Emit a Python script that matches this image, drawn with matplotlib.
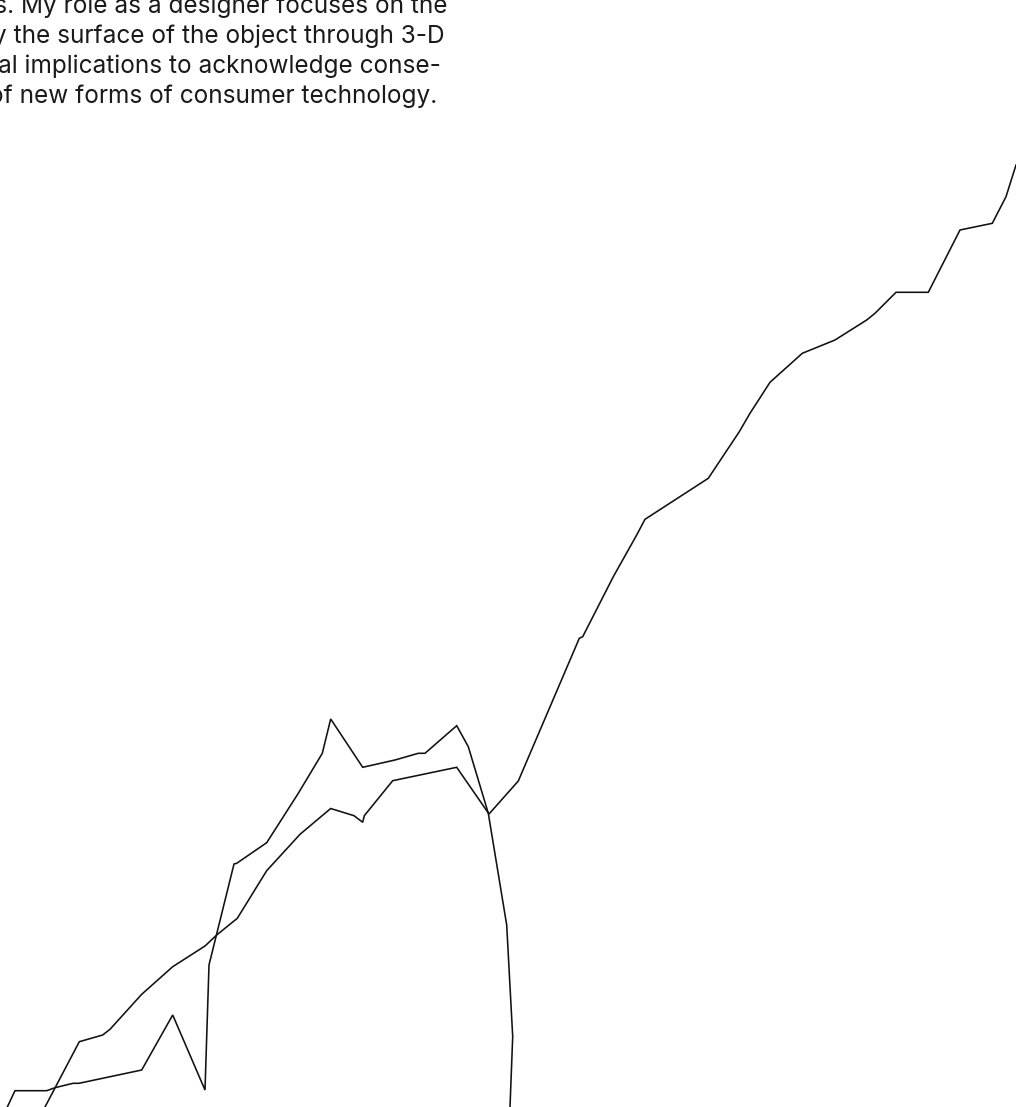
import matplotlib
matplotlib.use('Agg')
import matplotlib.pyplot as plt

# two traced paths, in picture pixels (x right, y down)
path_a_x = [7.3, 15, 46.7, 55, 73, 79, 141.7, 172.7, 205, 209, 234, 236.7, 266.7, 298.3,
            322.3, 330.7, 362.7, 395, 418.3, 425, 456.7, 468.3, 488.3, 506.7, 512.7, 510]
path_a_y = [1107, 1090.7, 1090.7, 1087.7, 1083.3, 1083.3, 1070, 1015, 1090, 965, 864, 863.3,
            842.7, 793.3, 753.3, 719, 767.3, 760, 753.3, 753.3, 725.7, 746.7, 813.3, 925,
            1036.7, 1107]

path_b_x = [45, 79.3, 102.7, 110, 141.7, 172.7, 205, 216.7, 237.3, 266.7, 300, 330.7, 354,
            362.7, 364.3, 392.7, 456.7, 489, 518.3, 579.3, 582.7, 613.3, 636.7, 645, 708.3,
            739.3, 750, 770, 802.3, 835, 866.7, 875, 896, 928.3, 960, 992.3, 1006, 1016]
path_b_y = [1107, 1041.7, 1035, 1029.3, 994.3, 966.7, 946, 935, 918.3, 870.7, 834.3, 808.5,
            815.7, 822.3, 815.7, 780.7, 767.3, 814, 781, 638.3, 636.7, 576.7, 535, 519.3,
            478.3, 431.7, 413.3, 382.3, 353.3, 340, 320, 313.3, 292.3, 292.3, 230, 223.3,
            196.7, 165]

text_lines = [
    'es. My role as a designer focuses on the',
    'y the surface of the object through 3-D',
    'al implications to acknowledge conse-',
    'of new forms of consumer technology.',
]

W, H = 1016, 1107
fig = plt.figure(figsize=(W / 100, H / 100), dpi=100)
ax = fig.add_axes([0, 0, 1, 1])
ax.set_xlim(0, W)
ax.set_ylim(H, 0)
ax.axis('off')

ax.plot(path_a_x, path_a_y, color='#111111', lw=1.15, solid_joinstyle='miter')
ax.plot(path_b_x, path_b_y, color='#111111', lw=1.15, solid_joinstyle='miter')

# paragraph fragment, left side cut off by the frame
right_edges = [447, 445, 441, 437]
baselines = [13.5, 42.5, 72.5, 102.5]
for i, line in enumerate(text_lines):
    ax.text(right_edges[i], baselines[i], line, ha='right', va='baseline',
            fontsize=17.55, family=['Inter', 'DejaVu Sans'], color='#1a1a1a')

fig.savefig('out.png', dpi=100, facecolor='white')
